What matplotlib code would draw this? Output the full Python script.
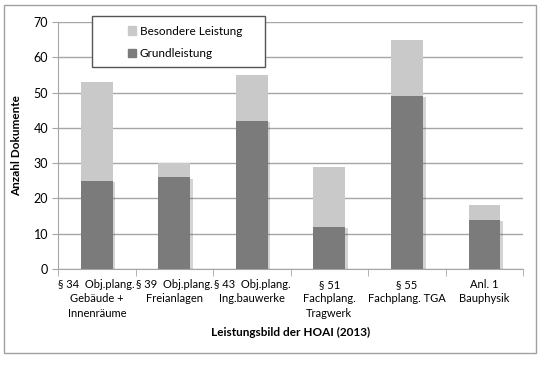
import numpy as np
import matplotlib.pyplot as plt
import matplotlib.patches as mpatches
import matplotlib.patheffects as pe

plt.rcParams['font.family'] = ['Lato', 'DejaVu Sans']

categories = [
    "§ 34  Obj.plang.\nGebäude +\nInnenräume",
    "§ 39  Obj.plang.\nFreianlagen",
    "§ 43  Obj.plang.\nIng.bauwerke",
    "§ 51\nFachplang.\nTragwerk",
    "§ 55\nFachplang. TGA",
    "Anl. 1\nBauphysik",
]
grundleistung = [25, 26, 42, 12, 49, 14]
besondere = [28, 4, 13, 17, 16, 4]

dark = '#7b7b7b'
light = '#c9c9c9'
grid_col = '#a6a6a6'

fig = plt.figure(figsize=(5.46, 3.66), dpi=100)
ax = fig.add_axes([0.1062, 0.265, 0.852, 0.675])

x = np.arange(len(categories))
w = 0.41
shadow = [pe.SimplePatchShadow(offset=(2, -1), shadow_rgbFace='#555555', alpha=0.25), pe.Normal()]
ax.bar(x, grundleistung, w, color=dark, zorder=3, path_effects=shadow, label='Grundleistung')
ax.bar(x, besondere, w, bottom=grundleistung, color=light, zorder=3, label='Besondere Leistung')

ax.set_xlim(-0.5, len(categories) - 0.5)
ax.set_ylim(0, 70)
ax.set_yticks(range(0, 71, 10))
ax.yaxis.grid(True, color=grid_col, linewidth=1)
ax.set_axisbelow(True)

ax.set_xticks(x)
ax.set_xticklabels(categories, fontsize=8, linespacing=1.4)
ax.set_xticks(np.arange(-0.5, len(categories)), minor=True)
ax.tick_params(axis='x', which='major', length=0, pad=7)
ax.tick_params(axis='x', which='minor', length=5, color=grid_col, direction='out')
ax.tick_params(axis='y', length=4, color=grid_col, labelsize=9, pad=3)

for s in ['top', 'right']:
    ax.spines[s].set_visible(False)
for s in ['left', 'bottom']:
    ax.spines[s].set_color(grid_col)

ax.set_ylabel('Anzahl Dokumente', fontsize=8.5, fontweight='bold', labelpad=8)
ax.set_xlabel('Leistungsbild der HOAI (2013)', fontsize=8.5, fontweight='bold', labelpad=6)

# legend frame drawn separately so the entries can sit indented like the original
fig.patches.append(mpatches.Rectangle((0.1685, 0.817), 0.317, 0.139,
                                      transform=fig.transFigure, facecolor='white',
                                      edgecolor='#555555', linewidth=1, zorder=4))
handles = [mpatches.Patch(color=light), mpatches.Patch(color=dark)]
leg = fig.legend(handles, ['Besondere Leistung', 'Grundleistung'],
                 loc='upper left', bbox_to_anchor=(0.234, 0.93),
                 fontsize=8.5, frameon=False,
                 handlelength=0.7, handleheight=0.7, handletextpad=0.3,
                 labelspacing=0.95, borderpad=0, borderaxespad=0)
leg.set_zorder(5)

fig.patches.append(mpatches.Rectangle((0.0073, 0.0355), 0.974, 0.951,
                                      transform=fig.transFigure, fill=False,
                                      edgecolor='#a0a0a0', linewidth=1))

plt.savefig('out.png', dpi=100)
